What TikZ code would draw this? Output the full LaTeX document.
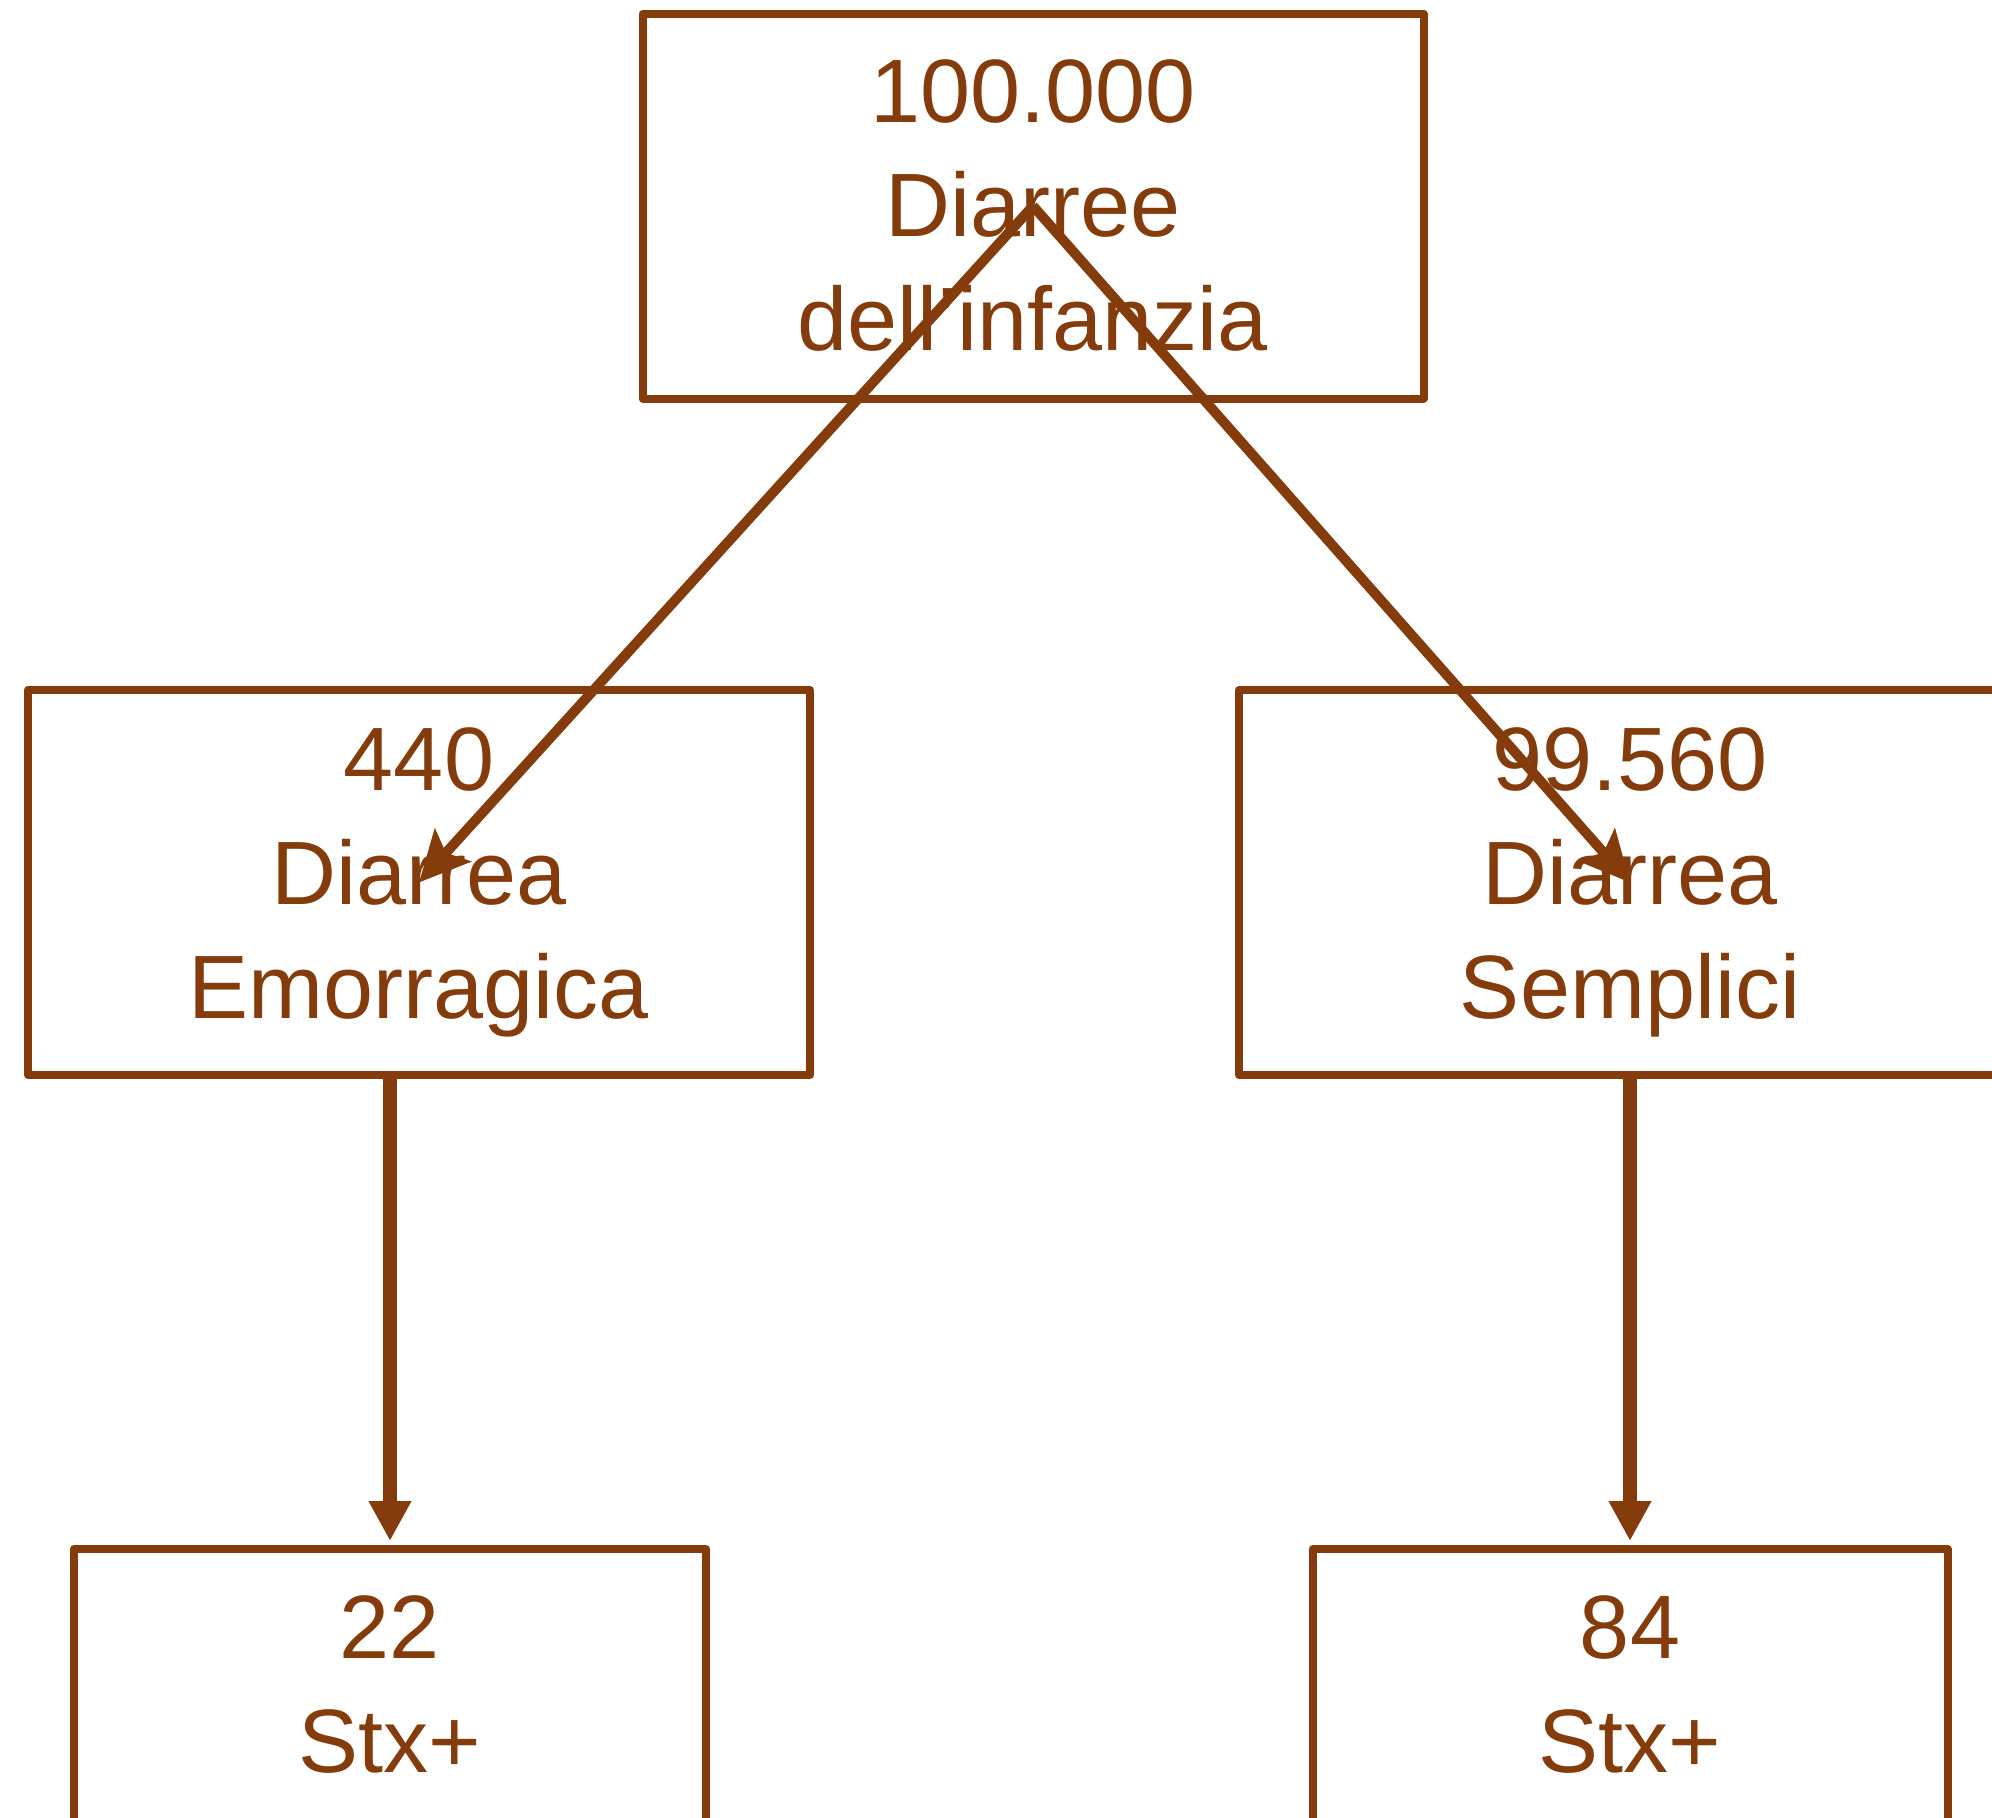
\documentclass[tikz,border=0pt]{standalone}
\usepackage{fontspec}
\setmainfont{Liberation Sans}
\usetikzlibrary{arrows.meta}
\definecolor{brownline}{HTML}{843C0C}
\begin{document}
\begin{tikzpicture}[x=0.5pt,y=-0.5pt,
    box/.style={draw=brownline, line width=4pt, line join=round, text=brownline,
      align=center, font=\fontsize{45}{57}\selectfont, inner sep=0pt,
      minimum height=192.5pt},
    split/.style={draw=brownline, line width=5pt,
      -{Stealth[length=25pt,width=24pt,inset=5pt]}},
    down/.style={draw=brownline, line width=7pt,
      -{Triangle[length=20pt,width=20pt]}}]
  \useasboundingbox (0,0) rectangle (1992,1817);

  \node[box, minimum width=390.5pt] (tot) at (1033,206) {100.000\\Diarree\\dell'infanzia};
  \node[box, minimum width=391pt] (emo) at (419,882.5) {440\\Diarrea\\Emorragica};
  \node[box, minimum width=391pt] (sem) at (1630,882.5) {99.560\\Diarrea\\Semplici};
  \node[box, minimum width=316pt] (stxa) at (390,1741.5) {22\\Stx+\\\phantom{Stx+}};
  \node[box, minimum width=317.5pt] (stxb) at (1630,1741.5) {84\\Stx+\\\phantom{Stx+}};

  \draw[split] (tot.center) -- (emo.center);
  \draw[split] (tot.center) -- (sem.center);
  \draw[down] (stxa.north |- emo.south) -- ([yshift=2pt]stxa.north);
  \draw[down] (sem.south) -- ([yshift=2pt]stxb.north);
\end{tikzpicture}
\end{document}
